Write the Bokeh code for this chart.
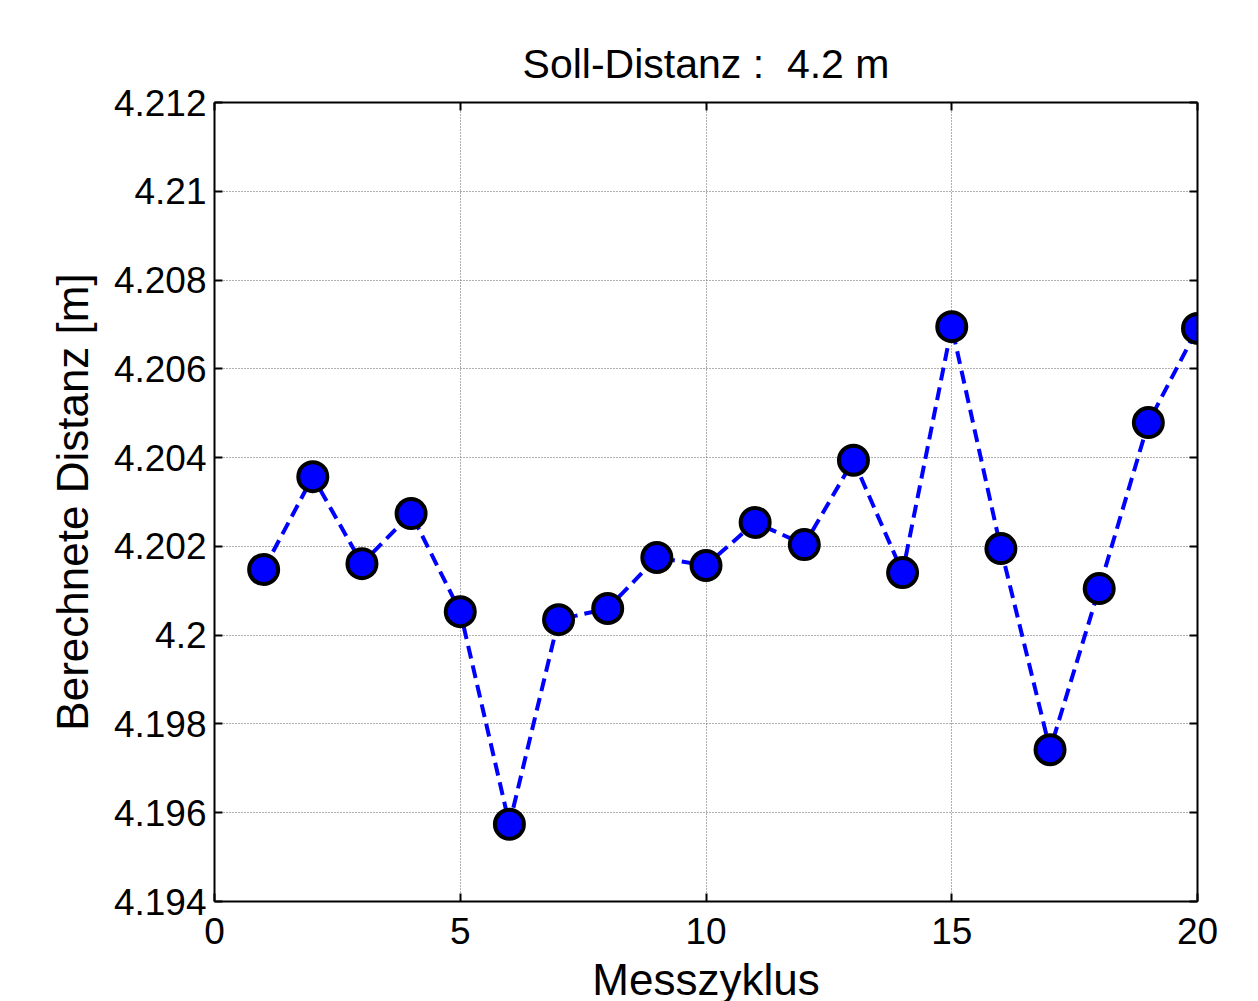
from bokeh.plotting import figure
from bokeh.models import Range1d, FixedTicker, LinearAxis, Title, CustomJSTickFormatter
from bokeh.embed import file_html
from bokeh.resources import INLINE

zyklus = list(range(1, 21))
distanz = [4.20148, 4.20357, 4.20161, 4.20274, 4.20053, 4.19574, 4.20035, 4.20060,
           4.20175, 4.20157, 4.20254, 4.20204, 4.20394, 4.20141, 4.20695, 4.20195,
           4.19742, 4.20105, 4.20479, 4.20691]

x_ticks = [0, 5, 10, 15, 20]
y_ticks = [4.194, 4.196, 4.198, 4.200, 4.202, 4.204, 4.206, 4.208, 4.210, 4.212]
y_tick_labels = ["4.194", "4.196", "4.198", "4.2", "4.202", "4.204", "4.206", "4.208", "4.21", "4.212"]

FONT = "Liberation Sans"

p = figure(width=1258, height=1001, frame_width=983, frame_height=799,
           output_backend="svg", toolbar_location=None,
           x_range=Range1d(0, 20), y_range=Range1d(4.194, 4.212),
           min_border_left=214, min_border_right=61, min_border_top=102, min_border_bottom=100)

p.title = Title(text="Soll-Distanz :\u00a0 4.2 m", align="center", text_font=FONT,
                text_font_size="41px", text_font_style="normal", text_color="black",
                offset=0, standoff=32)

p.xaxis.ticker = FixedTicker(ticks=x_ticks)
p.yaxis.ticker = FixedTicker(ticks=y_ticks)
p.yaxis.major_label_overrides = {t: l for t, l in zip(y_ticks, y_tick_labels)}

p.xaxis.axis_label = "Messzyklus"
p.yaxis.axis_label = "Berechnete Distanz [m]"

for ax in [p.xaxis[0], p.yaxis[0]]:
    ax.major_tick_in = 8
    ax.major_tick_out = 0
    ax.minor_tick_in = 0
    ax.minor_tick_out = 0
    ax.axis_line_width = 2
    ax.axis_line_color = "black"
    ax.major_tick_line_color = "black"
    ax.major_tick_line_width = 2
    ax.major_label_text_font = FONT
    ax.major_label_text_font_size = "37px"
    ax.major_label_text_color = "black"
    ax.axis_label_text_font = FONT
    ax.axis_label_text_font_size = "44px"
    ax.axis_label_text_font_style = "normal"
    ax.axis_label_text_color = "black"

p.xaxis.major_label_standoff = 16
p.xaxis.axis_label_standoff = 8
p.yaxis.major_label_standoff = 8
p.yaxis.axis_label_standoff = 14

blank = CustomJSTickFormatter(code="return ''")
right = LinearAxis(ticker=FixedTicker(ticks=y_ticks), formatter=blank,
                   major_tick_in=8, major_tick_out=0, minor_tick_in=0, minor_tick_out=0,
                   axis_line_width=2, major_tick_line_width=2, major_label_standoff=0)
top = LinearAxis(ticker=FixedTicker(ticks=x_ticks), formatter=blank,
                 major_tick_in=8, major_tick_out=0, minor_tick_in=0, minor_tick_out=0,
                 axis_line_width=2, major_tick_line_width=2, major_label_standoff=0)
p.add_layout(right, "right")
p.add_layout(top, "above")

p.xgrid.grid_line_color = "#606060"
p.ygrid.grid_line_color = "#606060"
p.xgrid.grid_line_dash = "1 2"
p.ygrid.grid_line_dash = "1 2"
p.xgrid.grid_line_width = 1
p.ygrid.grid_line_width = 1
p.outline_line_color = None

p.line(zyklus, distanz, line_color="#0000ff", line_width=4, line_dash="13 7")
p.scatter(zyklus, distanz, size=29, fill_color="#0000ff", line_color="black", line_width=4)

open("out.html", "w").write(file_html(p, INLINE))
